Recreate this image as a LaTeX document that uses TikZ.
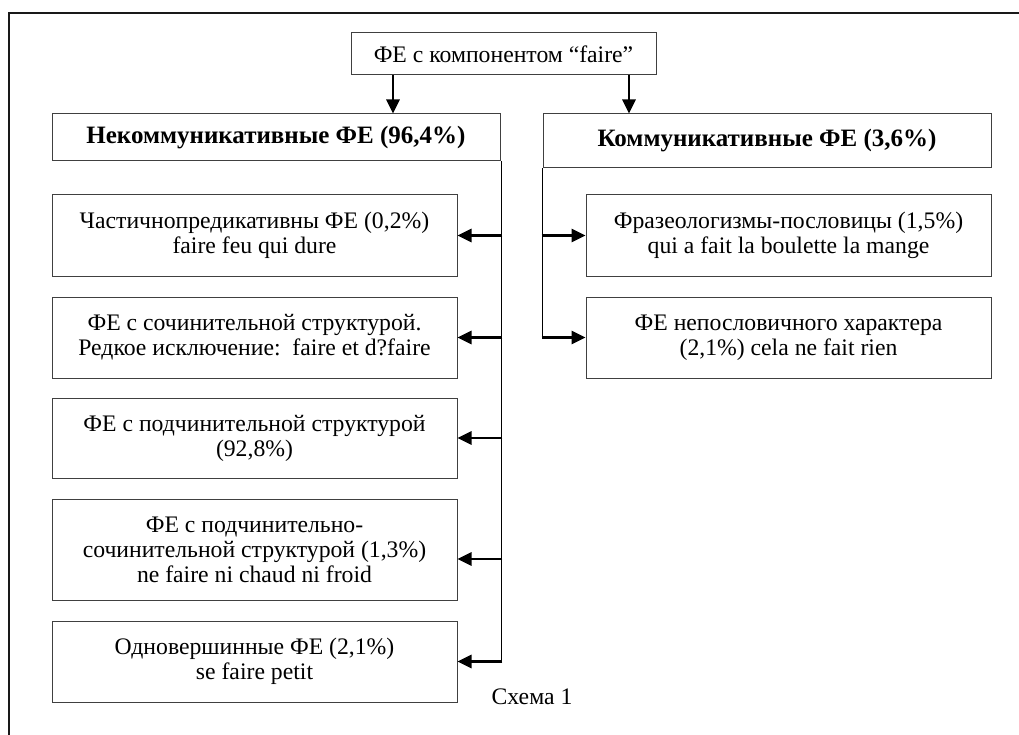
\documentclass[tikz,border=0pt]{standalone}
\usepackage{fontspec}
\setmainfont{Liberation Serif}
\usetikzlibrary{arrows.meta,calc}
\begin{document}
\begin{tikzpicture}[x=1pt,y=-1pt,
  txt/.style={font=\fontsize{23.7}{25}\selectfont},
  box/.style={draw=black!75, line width=1pt, fill=white, inner sep=0pt, align=center, txt},
  head/.style={box, font=\fontsize{25}{27}\selectfont\bfseries},
  conn/.style={line width=2.8pt, -{Triangle[length=14pt,width=13pt]}},
  link/.style={line width=1.8pt},
  frame/.style={line width=1.5pt, draw=black!90}]
\useasboundingbox (0,0) rectangle (1019,735);
\fill[white] (0,0) rectangle (1019,735);
\draw[frame] (9,735) -- (9,13) -- (1019,13);

\node[box, minimum width=305pt, minimum height=42pt] (top) at (503.5,54) {ФЕ с компонентом “faire”};
\node[head, minimum width=448pt, minimum height=47pt] (N) at (276,137.5) {Некоммуникативные ФЕ (96,4\%)};
\node[head, minimum width=448pt, minimum height=54pt] (K) at (767,141) {Коммуникативные ФЕ (3,6\%)};

\node[box, minimum width=405pt, minimum height=81pt] (B1) at (254.5,235.5) {Частичнопредикативны ФЕ (0,2\%)\\faire feu qui dure};
\node[box, minimum width=405pt, minimum height=81pt] (B2) at (254.5,337.5) {ФЕ с сочинительной структурой.\\Редкое исключение:\ \ faire et d?faire};
\node[box, minimum width=405pt, minimum height=80pt] (B3) at (254.5,438) {ФЕ с подчинительной структурой\\(92,8\%)};
\node[box, minimum width=405pt, minimum height=101pt] (B4) at (254.5,549.5) {ФЕ с подчинительно-\\сочинительной структурой (1,3\%)\\ne faire ni chaud ni froid};
\node[box, minimum width=405pt, minimum height=81pt] (B5) at (254.5,661.5) {Одновершинные ФЕ (2,1\%)\\se faire petit};

\node[box, minimum width=405pt, minimum height=81pt] (R1) at (788.5,235.5) {Фразеологизмы-пословицы (1,5\%)\\qui a fait la boulette la mange};
\node[box, minimum width=405pt, minimum height=81pt] (R2) at (788.5,337.5) {ФЕ непословичного характера\\(2,1\%) cela ne fait rien};

\node[txt, inner sep=0pt] (cap) at (532,697) {Схема 1};

% top arrows
\draw[conn] ([xshift=-110.5pt]top.south) -- ([xshift=-110.5pt]top.south |- N.north);
\draw[conn] ([xshift=125.5pt]top.south) -- ([xshift=125.5pt]top.south |- K.north);

% left trunk
\coordinate (b4a) at ([yshift=-9.5pt]B4.east);
\draw[link] ([xshift=1pt]N.south east) -- ([xshift=1pt]N.south east |- B5.east);
\foreach \b in {B1,B2,B3,B5}{
  \draw[conn] ([xshift=1.9pt]N.south east |- \b.east) -- (\b.east);
}
\draw[conn] ([xshift=1.9pt]N.south east |- b4a) -- (b4a);

% right trunk
\draw[link] (K.south west) -- (K.south west |- R2.west);
\foreach \b in {R1,R2}{
  \draw[conn] ([xshift=-0.9pt]K.south west |- \b.west) -- (\b.west);
}
\end{tikzpicture}
\end{document}
